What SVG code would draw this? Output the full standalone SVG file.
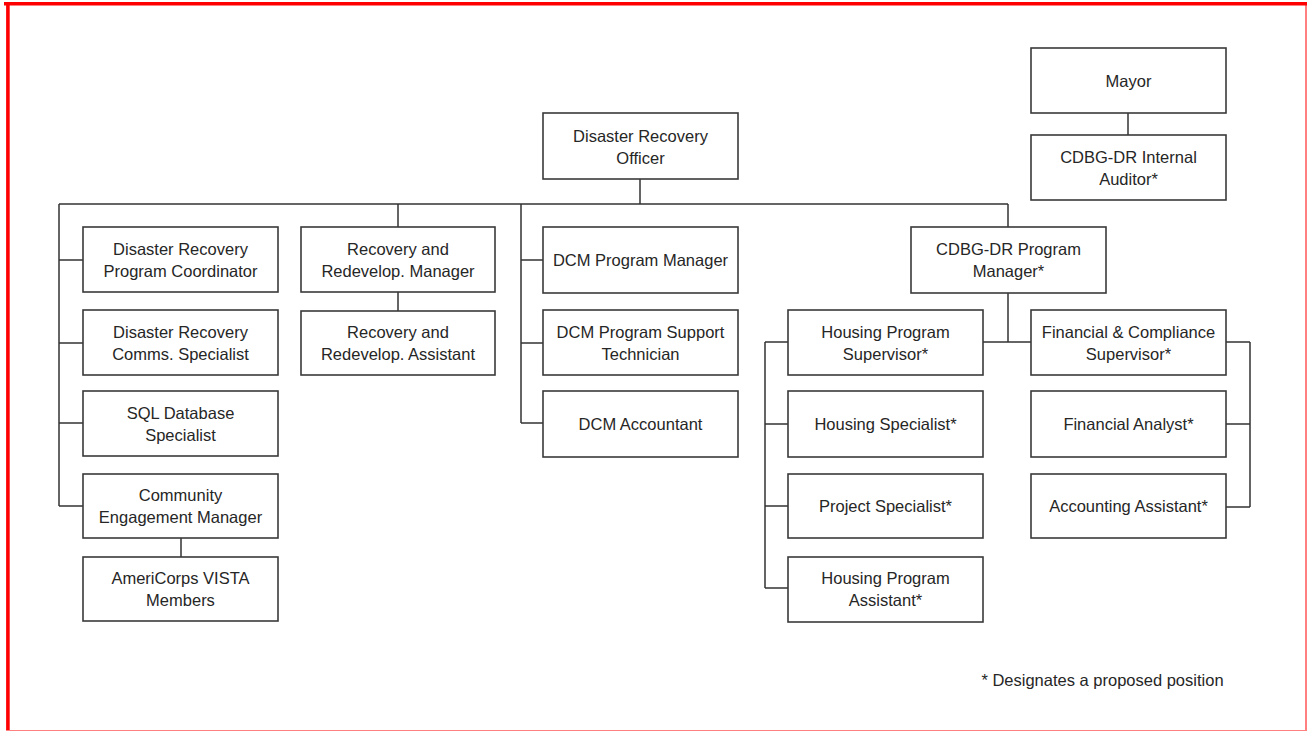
<svg xmlns="http://www.w3.org/2000/svg" width="1307" height="731" viewBox="0 0 1307 731">
<style>
.box{fill:#fff;stroke:#3a3a3a;stroke-width:1.6}
.t{font-family:"Liberation Sans",Arial,sans-serif;font-size:16.5px;fill:#262626;text-anchor:middle}
.c{stroke:#333;stroke-width:1.5;fill:none}
</style>
<rect x="0" y="0" width="1307" height="731" fill="#fff"/>
<g id="frame">
<line x1="4" y1="3.8" x2="1307" y2="3.8" stroke="#ff0000" stroke-width="3.6"/>
<line x1="7.9" y1="2" x2="7.9" y2="731" stroke="#ff0000" stroke-width="3.6"/>
<line x1="1306" y1="2" x2="1306" y2="731" stroke="#ff0000" stroke-width="1"/>
<line x1="6" y1="730.5" x2="1307" y2="730.5" stroke="#ff8080" stroke-width="1"/>
</g>
<g id="connectors" class="c">
<path d="M640 179V204M59 204H1008M59 204V506M59 260H83M59 343H83M59 423H83M59 506H83M181 538V557"/>
<path d="M398 204V227M398 292V311"/>
<path d="M521 204V423M521 260H543M521 343H543M521 423H543"/>
<path d="M1008 204V227M1008 293V342M983 342H1031"/>
<path d="M765 342V588M765 342H788M765 424H788M765 506H788M765 588H788"/>
<path d="M1250 342V507M1226 342H1250M1226 424H1250M1226 507H1250"/>
<path d="M1128 113V135"/>
</g>
<g id="mayor"><rect class="box" x="1031" y="48" width="195" height="65"/><text class="t" x="1128.5" y="86.5">Mayor</text></g>
<g id="internal-auditor"><rect class="box" x="1031" y="135" width="195" height="65"/><text class="t" x="1128.5" y="163">CDBG-DR Internal</text><text class="t" x="1128.5" y="185">Auditor*</text></g>
<g id="dro"><rect class="box" x="543" y="113" width="195" height="66"/><text class="t" x="640.5" y="141.5">Disaster Recovery</text><text class="t" x="640.5" y="163.5">Officer</text></g>
<g id="drpc"><rect class="box" x="83" y="227" width="195" height="65"/><text class="t" x="180.5" y="255">Disaster Recovery</text><text class="t" x="180.5" y="277">Program Coordinator</text></g>
<g id="drcs"><rect class="box" x="83" y="310" width="195" height="65"/><text class="t" x="180.5" y="338">Disaster Recovery</text><text class="t" x="180.5" y="360">Comms. Specialist</text></g>
<g id="sql"><rect class="box" x="83" y="391" width="195" height="65"/><text class="t" x="180.5" y="419">SQL Database</text><text class="t" x="180.5" y="441">Specialist</text></g>
<g id="cem"><rect class="box" x="83" y="474" width="195" height="64"/><text class="t" x="180.5" y="501">Community</text><text class="t" x="180.5" y="523">Engagement Manager</text></g>
<g id="vista"><rect class="box" x="83" y="557" width="195" height="64"/><text class="t" x="180.5" y="584">AmeriCorps VISTA</text><text class="t" x="180.5" y="606">Members</text></g>
<g id="rrm"><rect class="box" x="301" y="227" width="194" height="65"/><text class="t" x="398" y="255">Recovery and</text><text class="t" x="398" y="277">Redevelop. Manager</text></g>
<g id="rra"><rect class="box" x="301" y="311" width="194" height="64"/><text class="t" x="398" y="338">Recovery and</text><text class="t" x="398" y="360">Redevelop. Assistant</text></g>
<g id="dcm-pm"><rect class="box" x="543" y="227" width="195" height="66"/><text class="t" x="640.5" y="266">DCM Program Manager</text></g>
<g id="dcm-pst"><rect class="box" x="543" y="310" width="195" height="65"/><text class="t" x="640.5" y="338">DCM Program Support</text><text class="t" x="640.5" y="360">Technician</text></g>
<g id="dcm-acc"><rect class="box" x="543" y="391" width="195" height="66"/><text class="t" x="640.5" y="430">DCM Accountant</text></g>
<g id="cdbg-pm"><rect class="box" x="911" y="227" width="195" height="66"/><text class="t" x="1008.5" y="255">CDBG-DR Program</text><text class="t" x="1008.5" y="277">Manager*</text></g>
<g id="hps"><rect class="box" x="788" y="310" width="195" height="65"/><text class="t" x="885.5" y="338">Housing Program</text><text class="t" x="885.5" y="360">Supervisor*</text></g>
<g id="hs"><rect class="box" x="788" y="391" width="195" height="66"/><text class="t" x="885.5" y="430">Housing Specialist*</text></g>
<g id="ps"><rect class="box" x="788" y="474" width="195" height="64"/><text class="t" x="885.5" y="512">Project Specialist*</text></g>
<g id="hpa"><rect class="box" x="788" y="557" width="195" height="65"/><text class="t" x="885.5" y="584">Housing Program</text><text class="t" x="885.5" y="606">Assistant*</text></g>
<g id="fcs"><rect class="box" x="1031" y="310" width="195" height="65"/><text class="t" x="1128.5" y="338">Financial &amp; Compliance</text><text class="t" x="1128.5" y="360">Supervisor*</text></g>
<g id="fa"><rect class="box" x="1031" y="391" width="195" height="66"/><text class="t" x="1128.5" y="430">Financial Analyst*</text></g>
<g id="aa"><rect class="box" x="1031" y="474" width="195" height="64"/><text class="t" x="1128.5" y="512">Accounting Assistant*</text></g>
<g id="note"><text class="t" x="1102.5" y="686" style="text-anchor:middle">* Designates a proposed  position</text></g>
</svg>
